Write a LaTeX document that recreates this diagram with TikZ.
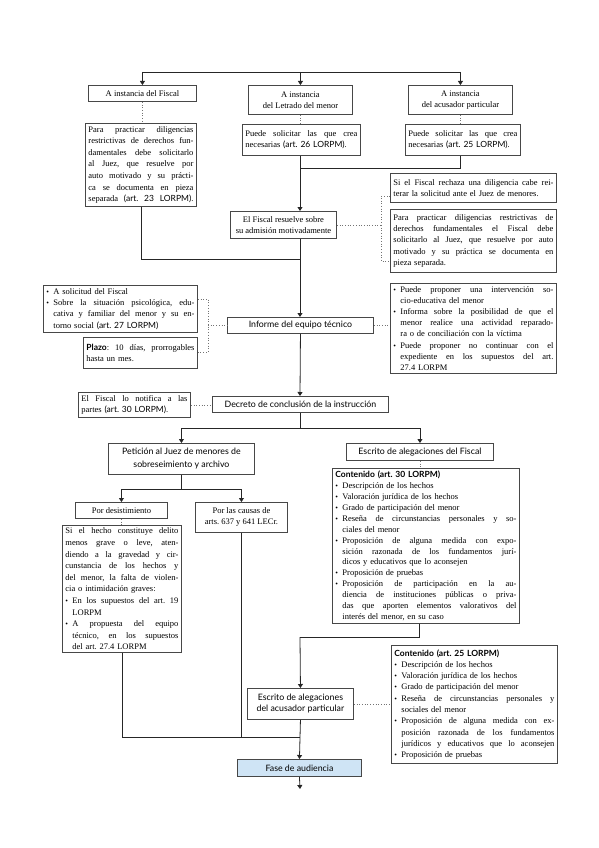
\documentclass[tikz,border=0pt]{standalone}
\usepackage{fontspec}
\setmainfont{Liberation Serif}
\newfontfamily\hsans{Lato}
\usetikzlibrary{arrows.meta}
\definecolor{faseblue}{RGB}{207,228,245}
\newlength\bulw \setlength\bulw{7pt}
\newlength\jw \setlength\jw{100pt}
\newcommand\bul{\makebox[\bulw][l]{\fontsize{7.5}{7.5}\selectfont\textbullet}}
\newcommand\jsp{\spaceskip=0.25em plus 1fil minus 0.09em\relax}
\newcommand\jline[1]{\noindent\hbox to\jw{\jsp #1}\par}
\newcommand\lline[1]{\noindent #1\par}
\newcommand\bjline[1]{\noindent\bul\hbox to\dimexpr\jw-\bulw\relax{\jsp #1}\par}
\newcommand\blline[1]{\noindent\bul #1\par}
\newcommand\cjline[1]{\noindent\hspace*{\bulw}\hbox to\dimexpr\jw-\bulw\relax{\jsp #1}\par}
\newcommand\clline[1]{\noindent\hspace*{\bulw}#1\par}
\newcommand\lsans[1]{{\hsans #1}}
\newcommand\cont[1]{\noindent{\hsans\bfseries #1}\par}
\tikzset{
  bx/.style={draw=black!72, line width=0.9pt, fill=white, inner xsep=3pt, inner ysep=2pt,
    font=\fontsize{8.5}{11.2}\selectfont, anchor=north west},
  tw/.style={text width=#1pt, /utils/exec={\global\jw=#1pt\relax}},
  cb/.style={bx, align=center, font=\fontsize{8.5}{11}\selectfont},
  hb/.style={bx, align=center, font=\hsans\fontsize{8.8}{11}\selectfont},
  ln/.style={line width=0.8pt, black!85},
  arr/.style={ln, -{Triangle[length=4pt,width=5pt]}},
  dt/.style={black!55, line width=0.7pt, dotted},
}
\begin{document}
\frenchspacing
\begin{tikzpicture}[x=1pt,y=-1pt]
\useasboundingbox (0,0) rectangle (599,848);
% top row
\node[cb, minimum width=108pt, minimum height=16pt] (b1) at (88,85) {A instancia del Fiscal};
\node[cb, minimum width=104pt, minimum height=29pt] (b2) at (248,85) {A instancia\\del Letrado del menor};
\node[cb, minimum width=104pt, minimum height=29pt] (b3) at (408,85) {A instancia\\del acusador particular};
\node[bx, tw=105, minimum height=83pt, font=\fontsize{8.5}{11.6}\selectfont] (b4) at (85,123) {%
\jline{Para practicar diligencias}
\jline{restrictivas de derechos fun-}
\jline{damentales debe solicitarlo}
\jline{al Juez, que resuelve por}
\jline{auto motivado y su prácti-}
\jline{ca se documenta en pieza}
\jline{separada \lsans{(art. 23 LORPM)}.}};
\node[bx, tw=112, minimum height=31pt] (b5) at (242,124) {%
\jline{Puede solicitar las que crea}
\lline{necesarias \lsans{(art. 26 LORPM)}.}};
\node[bx, tw=109, minimum height=31pt] (b6) at (405,124) {%
\jline{Puede solicitar las que crea}
\lline{necesarias \lsans{(art. 25 LORPM)}.}};
% fiscal resuelve
\node[cb, minimum width=106pt, minimum height=27pt] (b7) at (230,211) {El Fiscal resuelve sobre\\su admisión motivadamente};
\node[bx, tw=160, minimum height=29pt] (b9) at (390,173) {%
\jline{Si el Fiscal rechaza una diligencia cabe rei-}
\lline{terar la solicitud ante el Juez de menores.}};
\node[bx, tw=160, minimum height=63pt] (b10) at (390,209) {%
\jline{Para practicar diligencias restrictivas de}
\jline{derechos fundamentales el Fiscal debe}
\jline{solicitarlo al Juez, que resuelve por auto}
\jline{motivado y su práctica se documenta en}
\lline{pieza separada.}};
% informe
\node[hb, minimum width=146pt, minimum height=16pt] (b8) at (227,317) {Informe del equipo técnico};
\node[bx, tw=148, minimum height=47pt] (b11) at (43,285) {%
\blline{A solicitud del Fiscal}
\bjline{Sobre la situación psicológica, edu-}
\cjline{cativa y familiar del menor y su en-}
\clline{torno social \lsans{(art. 27 LORPM)}}};
\node[bx, tw=108, minimum height=31pt] (b12) at (83,337) {%
\jline{{\hsans\bfseries Plazo}: 10 días, prorrogables}
\lline{hasta un mes.}};
\node[bx, tw=160, minimum height=90pt] (b13) at (390,283) {%
\bjline{Puede proponer una intervención so-}
\clline{cio-educativa del menor}
\bjline{Informa sobre la posibilidad de que el}
\cjline{menor realice una actividad reparado-}
\clline{ra o de conciliación con la víctima}
\bjline{Puede proponer no continuar con el}
\cjline{expediente en los supuestos del art.}
\clline{27.4 LORPM}};
% decreto
\node[bx, tw=106, minimum height=25pt] (b14) at (78,392) {%
\jline{El Fiscal lo notifica a las}
\lline{partes \lsans{(art. 30 LORPM)}.}};
\node[hb, minimum width=176pt, minimum height=16pt] (dec) at (212,396) {Decreto de conclusión de la instrucción};
\node[hb, minimum width=146pt, minimum height=31pt, font=\hsans\fontsize{8.8}{13}\selectfont] (pet) at (108,443) {Petición al Juez de menores de\\sobreseimiento y archivo};
\node[hb, minimum width=147pt, minimum height=17pt] (esf) at (346,443) {Escrito de alegaciones del Fiscal};
\node[bx, tw=181, minimum height=155pt, font=\fontsize{8.5}{10.9}\selectfont] (c30) at (332,468) {%
\cont{Contenido (art. 30 LORPM)}
\blline{Descripción de los hechos}
\blline{Valoración jurídica de los hechos}
\blline{Grado de participación del menor}
\bjline{Reseña de circunstancias personales y so-}
\clline{ciales del menor}
\bjline{Proposición de alguna medida con expo-}
\cjline{sición razonada de los fundamentos jurí-}
\clline{dicos y educativos que lo aconsejen}
\blline{Proposición de pruebas}
\bjline{Proposición de participación en la au-}
\cjline{diencia de instituciones públicas o priva-}
\cjline{das que aporten elementos valorativos del}
\clline{interés del menor, en su caso}};
\node[cb, minimum width=92pt, minimum height=16pt] (pd) at (75,502) {Por desistimiento};
\node[cb, minimum width=92pt, minimum height=30pt] (pc) at (195,502) {Por las causas de\\arts. 637 y 641 LECr.};
\node[bx, tw=113, minimum height=127pt, font=\fontsize{8.5}{11.6}\selectfont] (sh) at (62,525) {%
\jline{Si el hecho constituye delito}
\jline{menos grave o leve, aten-}
\jline{diendo a la gravedad y cir-}
\jline{cunstancia de los hechos y}
\jline{del menor, la falta de violen-}
\lline{cia o intimidación graves:}
\bjline{En los supuestos del art. 19}
\clline{LORPM}
\bjline{A propuesta del equipo}
\cjline{técnico, en los supuestos}
\clline{del art. 27.4 LORPM}};
\node[hb, minimum width=106pt, minimum height=31pt] (esa) at (247,688) {Escrito de alegaciones\\del acusador particular};
\node[bx, tw=160, minimum height=118pt, font=\fontsize{8.5}{11.3}\selectfont] (c25) at (391,645) {%
\cont{Contenido (art. 25 LORPM)}
\blline{Descripción de los hechos}
\blline{Valoración jurídica de los hechos}
\blline{Grado de participación del menor}
\bjline{Reseña de circunstancias personales y}
\clline{sociales del menor}
\bjline{Proposición de alguna medida con ex-}
\cjline{posición razonada de los fundamentos}
\cjline{jurídicos y educativos que lo aconsejen}
\blline{Proposición de pruebas}};
\node[hb, fill=faseblue, minimum width=124pt, minimum height=17pt] (fase) at (237,759) {Fase de audiencia};
% connectors
\coordinate (top) at (300,72);
\draw[ln] (b1.north |- top) -- (b3.north |- top);
\draw[arr] (b1.north |- top) -- (b1.north);
\draw[arr] (b2.north |- top) -- (b2.north);
\draw[arr] (b3.north |- top) -- (b3.north);
\draw[dt] (b1.south) -- (b1.south |- b4.north);
\draw[dt] (b2.south) -- (b2.south |- b5.north);
\draw[dt] (b3.south) -- (b3.south |- b6.north);
\coordinate (j0) at (300,168);
\coordinate (j1) at (300,259);
\draw[ln] (b4.south) -- (b4.south |- j1) -- (j1);
\draw[ln] (b3.south |- b6.south) -- (b3.south |- j0) -- (j0);
\draw[arr] (top |- b5.south) -- (top |- b7.north);
\draw[arr] (top |- b7.south) -- (top |- b8.north);
\coordinate (br1) at (381,196);
\coordinate (br2) at (381,261);
\draw[dt] (b7.east) -- (b7.east -| br1);
\draw[dt] (b9.west |- br1) -- (br1) -- (br2) -- (b10.west |- br2);
\coordinate (bl1) at (208,299);
\coordinate (bl2) at (208,352);
\draw[dt] (b11.east |- bl1) -- (bl1) -- (bl2) -- (b12.east |- bl2);
\draw[dt] (bl1 |- b8.west) -- (b8.west);
\draw[dt] (b8.east) -- (b8.east -| b13.west);
\draw[arr] (b8.south) -- (top |- dec.north);
\draw[dt] (b14.east) -- (b14.east -| dec.west);
\coordinate (j2) at (300,428);
\draw[ln] (top |- dec.south) -- (j2);
\draw[ln] (pet.north |- j2) -- (esf.north |- j2);
\draw[arr] (pet.north |- j2) -- (pet.north);
\draw[arr] (esf.north |- j2) -- (esf.north);
\draw[dt] (esf.south) -- (esf.south |- c30.north);
\coordinate (j3) at (181,489);
\draw[ln] (pet.south) -- (pet.south |- j3);
\draw[ln] (pd.north |- j3) -- (pc.north |- j3);
\draw[arr] (pd.north |- j3) -- (pd.north);
\draw[arr] (pc.north |- j3) -- (pc.north);
\draw[dt] (pd.south) -- (pd.south |- sh.north);
\coordinate (j5) at (300,737);
\draw[ln] (sh.south) -- (sh.south |- j5) -- (j5);
\draw[ln] (pc.south) -- (pc.south |- j5);
\coordinate (j4) at (300,637);
\coordinate (k4) at (419,637);
\draw[ln] (k4 |- c30.south) -- (k4) -- (j4);
\draw[arr] (j4) -- (esa.north);
\draw[dt] (esa.east) -- (esa.east -| c25.west);
\draw[arr] (esa.south) -- (fase.north);
\coordinate (fin) at (300,789);
\draw[arr] (fase.south) -- (fin);
\end{tikzpicture}
\end{document}
